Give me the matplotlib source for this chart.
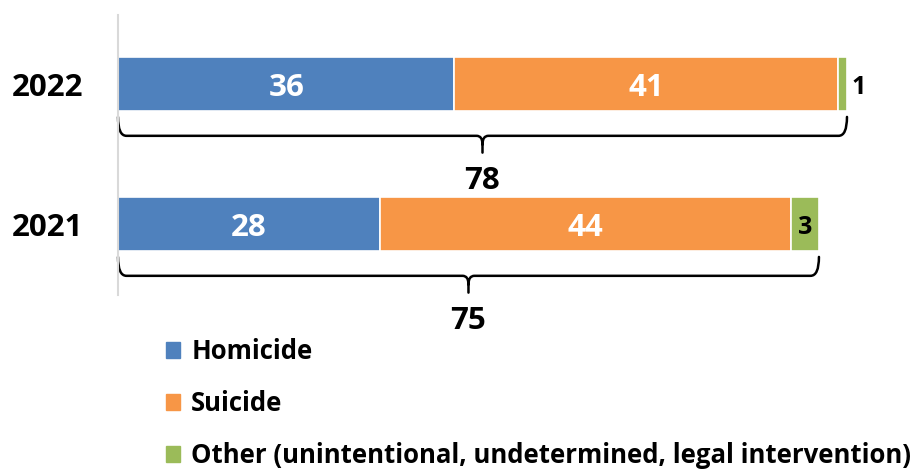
import matplotlib
matplotlib.use("Agg")
import matplotlib.pyplot as plt
from matplotlib.path import Path
from matplotlib.patches import PathPatch
import numpy as np

plt.rcParams['font.family'] = ['Open Sans', 'DejaVu Sans']
plt.rcParams['font.weight'] = 'bold'

years = ["2022", "2021"]
homicide = [36, 28]
suicide = [41, 44]
other = [1, 3]
series_names = ["Homicide", "Suicide",
                "Other (unintentional, undetermined, legal intervention)"]
colors = ["#4F81BD", "#F79646", "#9BBB59"]

W, H = 923, 471
fig = plt.figure(figsize=(W / 100, H / 100), dpi=100)

# axes placed in pixel units: left edge at x=118, vertical span 15..295
ax_left, ax_top, ax_bottom, ax_right = 118, 15, 295, 905
ax = fig.add_axes([ax_left / W, 1 - ax_bottom / H,
                   (ax_right - ax_left) / W, (ax_bottom - ax_top) / H])

px_per_unit = 9.346
ax.set_xlim(0, (ax_right - ax_left) / px_per_unit)
ax.set_ylim(1.507, -0.493)

ypos = np.arange(len(years))
bar_h = 0.386
totals = [h + s + o for h, s, o in zip(homicide, suicide, other)]

left = np.zeros(len(years))
for vals, col in zip([homicide, suicide, other], colors):
    ax.barh(ypos, vals, left=left, height=bar_h, color=col,
            edgecolor="white", linewidth=1.2)
    left += np.array(vals)

fs_val = 22.5
fs_small = 18
lab_kw = dict(va="center_baseline", fontweight="bold")
for i in range(len(years)):
    ax.text(homicide[i] / 2, ypos[i], str(homicide[i]), color="white",
            ha="center", fontsize=fs_val, **lab_kw)
    ax.text(homicide[i] + suicide[i] / 2, ypos[i], str(suicide[i]),
            color="white", ha="center", fontsize=fs_val, **lab_kw)
    o_start = homicide[i] + suicide[i]
    if other[i] >= 2:
        ax.text(o_start + other[i] / 2, ypos[i], str(other[i]), color="black",
                ha="center", fontsize=fs_small, **lab_kw)
    else:
        ax.text(o_start + other[i] + 0.5, ypos[i], str(other[i]),
                color="black", ha="left", fontsize=fs_small, **lab_kw)


def draw_brace(ax, x0, x1, y_tip, y_line, y_spike):
    """Curly bracket under a bar, from x0 to x1 (data units)."""
    r = 0.9  # corner radius in x units
    xm = (x0 + x1) / 2
    dy = (y_line - y_tip)
    verts = [
        (x0, y_tip), (x0, y_line), (x0 + r, y_line),
        (xm - r * 0.7, y_line), (xm, y_line), (xm, y_line + dy * 0.45),
        (xm, y_spike),
        (xm, y_line + dy * 0.45), (xm, y_line), (xm + r * 0.7, y_line),
        (x1 - r, y_line), (x1, y_line), (x1, y_tip),
    ]
    codes = [Path.MOVETO, Path.CURVE3, Path.CURVE3,
             Path.LINETO, Path.CURVE3, Path.CURVE3,
             Path.LINETO,
             Path.MOVETO, Path.CURVE3, Path.CURVE3,
             Path.LINETO, Path.CURVE3, Path.CURVE3]
    ax.add_patch(PathPatch(Path(verts, codes), facecolor="none",
                           edgecolor="black", linewidth=1.8,
                           capstyle="round", joinstyle="round",
                           clip_on=False))


# bracket geometry relative to each bar centre (units of category spacing)
tip_off, line_off, spike_off, label_off = 0.235, 0.37, 0.49, 0.665
for i in range(len(years)):
    draw_brace(ax, 0, totals[i], ypos[i] + tip_off, ypos[i] + line_off,
               ypos[i] + spike_off)
    ax.text(totals[i] / 2, ypos[i] + label_off, str(totals[i]),
            ha="center", fontsize=fs_val, clip_on=False, **lab_kw)

ax.set_yticks(ypos)
ax.set_yticklabels(years, fontsize=fs_val, fontweight="bold")
ax.tick_params(axis="y", length=0, pad=25)
ax.set_xticks([])
for s in ["top", "right", "bottom"]:
    ax.spines[s].set_visible(False)
ax.spines["left"].set_color("#d9d9d9")
ax.spines["left"].set_linewidth(1.5)

# legend below the chart
handles = [plt.Rectangle((0, 0), 1, 1, color=c) for c in colors]
fig.legend(handles, series_names, loc="upper left",
           bbox_to_anchor=(166 / W, 1 - 338 / H), frameon=False,
           prop={"size": 18.5, "weight": "bold"}, handlelength=0.56,
           handleheight=0.56, handletextpad=0.42, labelspacing=0.98,
           borderpad=0, borderaxespad=0)

fig.savefig("out.png", dpi=100)
